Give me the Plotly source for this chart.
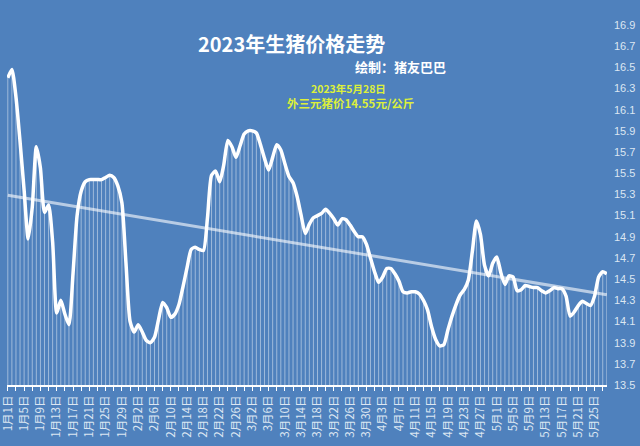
import numpy as np
import pandas as pd
import plotly.graph_objects as go

dates = pd.date_range("2023-01-01", "2023-05-28", freq="D")

prices = [
    16.40, 16.48, 16.22, 15.80, 15.34, 14.88, 15.18, 15.75, 15.55, 15.13,
    15.20, 14.85, 14.18, 14.30, 14.17, 14.07, 14.55, 15.10, 15.33, 15.42,
    15.44, 15.44, 15.44, 15.44, 15.46, 15.48, 15.46, 15.38, 15.22, 14.65,
    14.10, 14.00, 14.07, 14.00, 13.92, 13.90, 13.95, 14.12, 14.28, 14.23,
    14.14, 14.17, 14.26, 14.43, 14.61, 14.78, 14.80, 14.78, 14.77, 15.08,
    15.48, 15.52, 15.42, 15.58, 15.81, 15.75, 15.65, 15.76, 15.87, 15.90,
    15.90, 15.88, 15.77, 15.64, 15.53, 15.65, 15.77, 15.72, 15.59, 15.47,
    15.41, 15.28, 15.10, 14.93, 15.02, 15.08, 15.10, 15.12, 15.16, 15.12,
    15.07, 15.01, 15.07, 15.06, 15.01, 14.95, 14.90, 14.90, 14.83, 14.70,
    14.57, 14.47, 14.52, 14.60, 14.60, 14.55, 14.48, 14.38, 14.37, 14.38,
    14.38, 14.36, 14.30, 14.21, 14.05, 13.93, 13.87, 13.88, 14.02, 14.15,
    14.26, 14.35, 14.40, 14.49, 14.76, 15.05, 14.92, 14.63, 14.53, 14.65,
    14.71, 14.56, 14.45, 14.53, 14.52, 14.39, 14.40, 14.44, 14.43, 14.42,
    14.42, 14.39, 14.37, 14.39, 14.42, 14.41, 14.41, 14.34, 14.15, 14.19,
    14.25, 14.29, 14.27, 14.25, 14.34, 14.52, 14.57, 14.55,
]

tick_labels = [
    "1月1日", "1月5日", "1月9日", "1月13日", "1月17日", "1月21日", "1月25日", "1月29日",
    "2月2日", "2月6日", "2月10日", "2月14日", "2月18日", "2月22日", "2月26日",
    "3月2日", "3月6日", "3月10日", "3月14日", "3月18日", "3月22日", "3月26日", "3月30日",
    "4月3日", "4月7日", "4月11日", "4月15日", "4月19日", "4月23日", "4月27日",
    "5月1日", "5月5日", "5月9日", "5月13日", "5月17日", "5月21日", "5月25日",
]

y_min, y_max = 13.5, 16.9
bg = "#4F81BD"
label_col = "#DCE6F2"

# day index used as x position
days = list(range(len(dates)))

# drop lines from each point down to axis
dx, dy = [], []
for d, v in zip(days, prices):
    dx += [d, d, None]
    dy += [y_min, v, None]

# linear trend from data
t = np.arange(len(prices))
k, b0 = np.polyfit(t, prices, 1)
trend = k * t + b0

fig = go.Figure()
fig.add_trace(go.Scatter(x=dx, y=dy, mode="lines",
                         line=dict(color="rgba(255,255,255,0.45)", width=1),
                         hoverinfo="skip", showlegend=False))
fig.add_trace(go.Scatter(x=days, y=trend, mode="lines",
                         line=dict(color="rgba(255,255,255,0.6)", width=3),
                         showlegend=False))
fig.add_trace(go.Scatter(x=days, y=prices, mode="lines",
                         line=dict(color="white", width=3.5, shape="spline", smoothing=0.6),
                         showlegend=False))

tickvals = list(range(0, len(days), 2))
ticktext = []
li = 0
for i in tickvals:
    if i % 4 == 0:
        ticktext.append(tick_labels[li]); li += 1
    else:
        ticktext.append("")

fig.update_layout(
    width=640, height=446,
    paper_bgcolor=bg, plot_bgcolor=bg,
    margin=dict(l=7, r=33, t=25, b=61),
    showlegend=False,
    xaxis=dict(
        range=[-0.2, len(days) - 0.95],
        tickmode="array", tickvals=tickvals, ticktext=ticktext,
        tickangle=-90, ticks="outside", ticklen=4, tickwidth=1, tickcolor="white",
        ticklabeloverflow="allow", automargin=False,
        showgrid=False, zeroline=False,
        showline=True, linecolor="white", linewidth=2,
        tickfont=dict(family="Noto Sans CJK SC", size=11.5, color=label_col),
    ),
    yaxis=dict(
        range=[y_min, y_max], side="right", automargin=False,
        tickmode="linear", tick0=13.5, dtick=0.2, tickformat=".1f",
        showgrid=False, zeroline=False, showline=False, ticks="",
        ticklabelstandoff=6,
        tickfont=dict(family="Liberation Sans", size=11, color=label_col),
    ),
    font=dict(family="Noto Sans CJK SC"),
)

fig.add_annotation(text="<b>2023年生猪价格走势</b>", x=291, y=446-43, xref="paper", yref="paper",
                   showarrow=False, font=dict(size=20, color="white", family="Noto Sans CJK SC"))
anns = [
    ("<b>绘制：猪友巴巴</b>", 400, 66, 13, "white"),
    ("<b>2023年5月28日</b>", 349, 88, 10.5, "#DDF03A"),
    ("<b>外三元猪价14.55元/公斤</b>", 350, 103, 11.5, "#DDF03A"),
]
for txt, x, y, s, c in anns:
    fig.add_annotation(text=txt, x=x, y=446 - y, xref="paper", yref="paper", showarrow=False,
                       font=dict(size=s, color=c, family="Noto Sans CJK SC"))

# convert pixel annotations to paper coords
pw, ph = 640 - 7 - 33, 446 - 25 - 61
for a in fig.layout.annotations:
    a.x = (a.x - 7) / pw
    a.y = (a.y - 61) / ph
    a.xanchor = "center"; a.yanchor = "middle"
    a.borderpad = 0

fig.write_html("out.html")
